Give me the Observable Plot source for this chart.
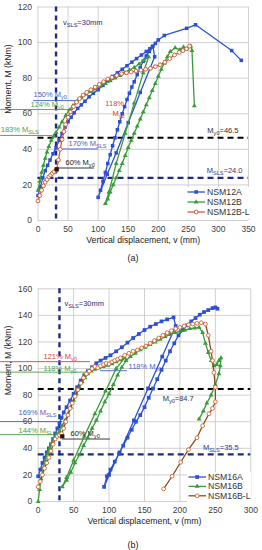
<!DOCTYPE html>
<html><head><meta charset="utf-8">
<script src="https://cdn.jsdelivr.net/npm/d3@7"></script>
<script src="https://cdn.jsdelivr.net/npm/@observablehq/plot@0.6"></script>
<style>
body{margin:0;background:#fff;font-family:"Liberation Sans",Arial,sans-serif;}
#wrap{position:relative;width:262px;height:550px;overflow:hidden;background:#fff;}
.cap{position:absolute;left:0;width:266px;text-align:center;font-size:9px;line-height:16px;color:#222;}
</style></head><body><div id="wrap"></div>
<script>
// ---------------- Chart (a) data ----------------
const xTicksA = [0, 50, 100, 150, 200, 250, 300, 350];
const yTicksA = [0, 20, 40, 60, 80, 100, 120];
const My0A = 46.5, MslsA = 24.0, vSlsA = 30;

const nsm12A_v = [0,4,8,12,16,20,25,30,35,40,45,50,55,60,66,72,78,85,92,100,108,116,124,132,140,148,156,164,172,180,186,191,194,
  170,150,130,115,100,
  104,108,112,116,120,124,128,132,136,140,144,148,152,156,160,165,170,175,180,185,190,195,200,210,247,262,322,338];
const nsm12A_M = [14,19,24,28,31,34,37.5,41,45,49,52.5,55.5,58,60.5,63,65,67,69.5,71.5,73.5,76,78.5,81,83,85,87,89,91,93,95,96.5,98,92,
  72,55,38,26,13,
  17,22,27,32,37,42,46.5,51,55.5,60,64,68,71.5,75,78,82,86,89.5,92.5,95,97.5,99.5,101.5,104,108,110,95.5,90];

const nsm12B_v = [0,3,6,9,12,15,18,22,26,30,35,40,46,52,58,65,72,80,88,96,104,112,120,128,136,144,152,160,168,176,184,
  175,160,145,130,118,112,
  116,120,125,130,135,140,145,150,155,160,165,170,175,180,185,190,195,200,205,210,215,220,228,236,242,248,254,256,260];
const nsm12B_M = [17,22,27,31,35,38.5,41.5,45,47.5,49.5,52.5,55.5,59,62,64.5,67,69,71,72.5,74,75.5,77,78.5,80,81.5,83,84.5,86,88,90,92,
  83,66,49,32,16,9.5,
  12,16,20,24,28,32,36.5,41,45,49,53,57,61,65,69,73,77,81,85,88.5,92,95,97,96,97.5,96.5,98,95.5,64.5];

const nsm12BL_v = [0,3,6,9,12,15,18,21,24,27,31,34,37,40,43,46,50,54,59,64,69,75,81,88,95,102,109,116,123,131,139,147,155,163,171,179,187,195,203,211,219,227,235,241,247,252];
const nsm12BL_M = [11,14,17,19.5,21.5,23,24.5,25.5,26.5,27.5,28.5,34,40,45.5,50,54,58,61,64,66.5,68.5,70.5,72,73.5,75,76.5,78,79.5,80.5,81.5,82.5,83,83.5,84,84.5,85,85.5,86.5,87.5,89,91,93,94.5,95.5,96.5,98];

// ---------------- Chart (b) data ----------------
const xTicksB = [0, 50, 100, 150, 200, 250, 300];
const yTicksB = [0, 20, 40, 60, 80, 100, 120, 140, 160];
const My0B = 84.7, MslsB = 35.5, vSlsB = 30;

const nsm16A_v = [0,3,6,9,12,15,18,21,24,27,30,33,36,40,45,50,55,60,65,70,76,82,88,95,102,110,118,126,134,142,150,158,166,174,182,191,194,
  175,155,135,115,100,93,
  97,102,108,114,120,126,132,138,144,150,156,162,168,174,180,186,192,198,204,210,216,222,228,234,240,246,250,253];
const nsm16A_M = [19,24,29,33,37,40,43,47,51,55,59,63,67,71,76,81,86,91,95,98,101,104,106,108,110,113,116,119.5,123,126,129,131.5,133.5,135.5,137,138.5,132,
  109,85,61,37,20,11,
  19,24,30,36,42,48,54,60,65,71,78,85,92,99,106,113,119,125,129,132.5,135.5,138,140.5,142.5,144,145.5,146,145];

const nsm16B_v = [0,2,4,7,10,13,16,19,22,26,30,34,38,42,46,50,54,58,62,66,70,75,80,86,92,98,104,110,116,122,
  110,95,80,65,50,40,34,
  40,46,52,58,64,70,76,82,88,94,100,106,112,118,124,130,137,144,151,158,165,172,179,186,193,200,207,214,221,227,
  232,236,240,244,248,252,255,258,257,255,250,244,238,233,227];
const nsm16B_M = [0,9,17,25,31,36,40,44,47,50,53,57,61,66,71,76,81,86,90,93,96,98,99.5,100.5,101.5,102.5,103.5,105,106.5,108,
  100,83,66,49,31,18,11,
  16,22,29,35,42,48,55,61,68,75,81,88,95,101,106,109,111.5,114,116,118,120,122,124,125.5,127,128,129,130,130.5,131,
  127,119,112,106,102,103,106,108,102,96,88,80,74,68,62];

const nsm16BL_v = [0,3,6,9,12,15,18,21,24,27,30,33,36,39,42,45,48,52,56,60,64,68,72,76,80,84,88,92,96,100,
  104,108,112,116,122,128,134,140,146,152,158,164,170,176,182,188,194,200,206,212,
  218,224,230,236,240,244,246,248,250,250,246,241,232,224,212,201,189,177];
const nsm16BL_M = [11,15,20,25,29,33,38,43,47,49,50,51,55,60,65,70,74,79,84,89,93,96,98,100,101.5,100.5,102,103,104,103.5,
  105,106,107,108,110,111.5,113,114,115.5,117,119,121,123,125,127,128.5,130,131,132,133,
  133.5,134,134.5,133.5,125,113,106,97,86,75,70,66,57,48,39,29.5,19,9.5];

// annotation labels (percent of reference moment) and their leader lines
const annA_text = ["150% M_{y0}", "124% M_{y0}", "118%", "M_{y0}", "183% M_{SLS}", "170% M_{SLS}", "60% M_{y0}"];
const annA_tx   = [-7.5, -12.5, 112, 124, -62, 50.7, 45.7];
const annA_tM   = [70.8, 65.2, 65.8, 60.1, 51.1, 43.3, 32.6];
const annA_lineM= [67.4, 62.4, null, null, 47.8, 40.2, 29.5];
const annA_x1   = [-7.5, -62, null, null, -62, 29, 32.4];
const annA_x2   = [66, 59, null, null, 24, 100.6, 94];
const annA_col  = ["#3f5fc8", "#4a9e4a", "#d8432e", "#d8432e", "#4a9e4a", "#3f5fc8", "#222"];

const annB_text = ["121% M_{y0}", "118% M_{y0}", "118% M_{y0}", "169% M_{SLS}", "144% M_{SLS}", "60% M_{y0}"];
const annB_tx   = [7.5, 7.5, 127.5, -27.8, -27.8, 45.6];
const annB_tM   = [109.1, 100.3, 101.4, 67.2, 53.3, 51.1];
const annB_lineM= [105.2, 97.3, 98.4, 60.1, 50.3, 47];
const annB_x1   = [-53.2, -53.2, 88, -53.2, -53.2, 34.3];
const annB_x2   = [73.8, 71, 126, 34.3, 31.5, 102];
const annB_col  = ["#d8432e", "#4a9e4a", "#3f5fc8", "#3f5fc8", "#4a9e4a", "#222"];

// highlighted point at v_SLS (60% M_y0)
const markA = {v: 31, M: 28.8};
const markB = {v: 34, M: 49};

// ---------------- styles ----------------
const navy = "#1f2b80";
const gridColor = "#c4c4c4";
const blue = "#2d4fd6", green = "#3b9b3b";

const seriesA = [
  {name: "NSM12A", v: nsm12A_v, M: nsm12A_M, line: blue, symbol: "square", r: 2.0, fill: blue, stroke: "none"},
  {name: "NSM12B", v: nsm12B_v, M: nsm12B_M, line: green, symbol: "triangle", r: 1.8, fill: green, stroke: "none"},
  {name: "NSM12B-L", v: nsm12BL_v, M: nsm12BL_M, line: "#dc5a38", symbol: "circle", r: 1.9, fill: "#fff", stroke: "#c4522e"}
];
const seriesB = [
  {name: "NSM16A", v: nsm16A_v, M: nsm16A_M, line: blue, symbol: "square", r: 2.1, fill: blue, stroke: "none"},
  {name: "NSM16B", v: nsm16B_v, M: nsm16B_M, line: green, symbol: "triangle", r: 1.8, fill: green, stroke: "none"},
  {name: "NSM16B-L", v: nsm16BL_v, M: nsm16BL_M, line: "#8e4a1c", symbol: "circle", r: 1.9, fill: "#fff", stroke: "#d0642c"}
];

function rowsOf(v, M) { return v.map((x, i) => ({v: x, M: M[i]})); }
function annRows(t, tx, tM, lM, x1, x2, col) {
  return t.map((s, i) => ({label: s, tx: tx[i], tM: tM[i], lineM: lM[i], x1: x1[i], x2: x2[i], color: col[i]}));
}

function chart(c) {
  const marks = [
    Plot.gridX({ticks: c.xTicks, stroke: gridColor, strokeOpacity: 1, strokeWidth: 0.8}),
    Plot.gridY({ticks: c.yTicks, stroke: gridColor, strokeOpacity: 1, strokeWidth: 0.8}),
    Plot.axisX({ticks: c.xTicks, tickSize: 0, tickPadding: 5, label: null, fontSize: 8.5}),
    Plot.axisY({ticks: c.yTicks, tickSize: 0, tickPadding: 6, label: null, fontSize: 8.5}),
    Plot.ruleY([c.Msls], {stroke: navy, strokeWidth: 2.2, strokeDasharray: "6,4"}),
    Plot.ruleY([c.My0], {stroke: "#000", strokeWidth: 2, strokeDasharray: "6,4"}),
    Plot.ruleX([c.vSls], {stroke: navy, strokeWidth: 2.4, strokeDasharray: "5,4"})
  ];
  for (const a of c.ann) {
    if (a.lineM != null) marks.push(Plot.ruleY([a], {y: "lineM", x1: "x1", x2: "x2", stroke: a.color, strokeWidth: 0.9}));
  }
  for (const s of c.series) {
    const rows = rowsOf(s.v, s.M);
    marks.push(Plot.line(rows, {x: "v", y: "M", stroke: s.line, strokeWidth: 1.3}));
    marks.push(Plot.dot(rows, {x: "v", y: "M", symbol: s.symbol, r: s.r, fill: s.fill, stroke: s.stroke, strokeWidth: 0.9}));
  }
  marks.push(Plot.dot([c.mark], {x: "v", y: "M", symbol: "square", r: 2.4, fill: "#2a1208"}));
  for (const a of c.ann) {
    marks.push(Plot.text([a], {x: "tx", y: "tM", text: "label", textAnchor: "start", fill: a.color, fontSize: 7.5}));
  }
  marks.push(Plot.text([{label: "v_{SLS}=" + c.vSls + "mm", v: c.vSls}], {x: "v", text: "label", frameAnchor: "top", dy: c.vDy, dx: c.vDx, textAnchor: "start", fill: navy, fontSize: 7.5}));
  marks.push(Plot.text([{label: "M_{y0}=" + c.My0.toFixed(1), M: c.My0}], {y: "M", text: "label", frameAnchor: "right", dx: c.y0Dx, dy: c.y0Dy, textAnchor: "end", fill: "#333", fontSize: 7.5}));
  marks.push(Plot.text([{label: "M_{SLS}=" + c.Msls.toFixed(1), M: c.Msls}], {y: "M", text: "label", frameAnchor: "right", dx: c.slsDx, dy: c.slsDy, textAnchor: "end", fill: "#2e3a8c", fontSize: 7.5}));
  marks.push(Plot.text(["Moment, M (kNm)"], {text: d => d, frameAnchor: "left", dx: -29.5, rotate: -90, fill: "#222", fontSize: 8.7}));
  marks.push(Plot.text(["Vertical displacement, v (mm)"], {text: d => d, frameAnchor: "bottom", dy: 22, fill: "#222", fontSize: 8.7}));

  const svg = Plot.plot({
    width: 262, height: c.height,
    marginLeft: c.ml, marginRight: c.mr, marginTop: c.mt, marginBottom: c.mb,
    x: {domain: c.xDomain}, y: {domain: c.yDomain},
    style: {fontFamily: "'Liberation Sans', Arial, sans-serif", fontSize: "8.5px", color: "#404040", background: "none", overflow: "visible"},
    marks
  });
  subscripts(svg);
  svg.style.position = "absolute";
  svg.style.left = "0px";
  svg.style.top = c.top + "px";
  return svg;
}

function subscripts(svg) {
  const NS = "http://www.w3.org/2000/svg";
  svg.querySelectorAll("text").forEach(t => {
    const s = t.textContent;
    if (!s.includes("_{") || t.querySelector("tspan")) return;
    t.textContent = "";
    const re = /_\{([^}]*)\}/g;
    let last = 0, m, prevSub = false;
    const add = (str, sub) => {
      const ts = document.createElementNS(NS, "tspan");
      ts.textContent = str;
      if (sub) { ts.setAttribute("font-size", "5.6"); ts.setAttribute("dy", "2"); }
      else if (prevSub) { ts.setAttribute("dy", "-2"); }
      prevSub = sub;
      t.appendChild(ts);
    };
    while ((m = re.exec(s))) {
      if (m.index > last) add(s.slice(last, m.index), false);
      add(m[1], true);
      last = re.lastIndex;
    }
    if (last < s.length) add(s.slice(last), false);
  });
}

function legend(series, left, top, rowH) {
  const w = 64, h = rowH * 3 + 2;
  const svg = d3.create("svg").attr("width", w).attr("height", h)
    .style("position", "absolute").style("left", left + "px").style("top", top + "px").style("overflow", "visible");
  svg.append("rect").attr("width", w).attr("height", h).attr("fill", "#fff");
  const symbols = {square: d3.symbolSquare, triangle: d3.symbolTriangle, circle: d3.symbolCircle};
  series.forEach((s, i) => {
    const y = 5 + i * rowH;
    svg.append("line").attr("x1", 1.5).attr("x2", 19).attr("y1", y).attr("y2", y).attr("stroke", s.line).attr("stroke-width", 1.3);
    svg.append("path").attr("transform", `translate(10.2,${y})`)
      .attr("d", d3.symbol(symbols[s.symbol], Math.PI * s.r * s.r)())
      .attr("fill", s.fill).attr("stroke", s.stroke).attr("stroke-width", 0.9);
    svg.append("text").attr("x", 21).attr("y", y).attr("dy", "0.35em")
      .attr("font-size", 8.7).attr("fill", "#333")
      .attr("font-family", "'Liberation Sans', Arial, sans-serif").text(s.name);
  });
  return svg.node();
}

const wrap = document.getElementById("wrap");

wrap.appendChild(chart({
  top: 0, height: 250, ml: 37.5, mr: 14, mt: 6.5, mb: 30,
  xDomain: [0, 350], yDomain: [0, 120], xTicks: xTicksA, yTicks: yTicksA,
  My0: My0A, Msls: MslsA, vSls: vSlsA,
  series: seriesA,
  ann: annRows(annA_text, annA_tx, annA_tM, annA_lineM, annA_x1, annA_x2, annA_col),
  mark: markA,
  vDx: 7, vDy: 13, y0Dx: -10, y0Dy: -7, slsDx: -6, slsDy: -7
}));
wrap.appendChild(legend(seriesA, 186, 187, 10));
const capA = document.createElement("div"); capA.className = "cap"; capA.style.top = "250px"; capA.textContent = "(a)";
wrap.appendChild(capA);

wrap.appendChild(chart({
  top: 270, height: 262, ml: 37.7, mr: 11.7, mt: 18.3, mb: 31,
  xDomain: [0, 300], yDomain: [0, 160], xTicks: xTicksB, yTicks: yTicksB,
  My0: My0B, Msls: MslsB, vSls: vSlsB,
  series: seriesB,
  ann: annRows(annB_text, annB_tx, annB_tM, annB_lineM, annB_x1, annB_x2, annB_col),
  mark: markB,
  vDx: 5, vDy: 12, y0Dx: -57, y0Dy: 9.5, slsDx: -12, slsDy: -7
}));
wrap.appendChild(legend(seriesB, 187, 472, 9.4));
const capB = document.createElement("div"); capB.className = "cap"; capB.style.top = "537px"; capB.textContent = "(b)";
wrap.appendChild(capB);
</script></body></html>
